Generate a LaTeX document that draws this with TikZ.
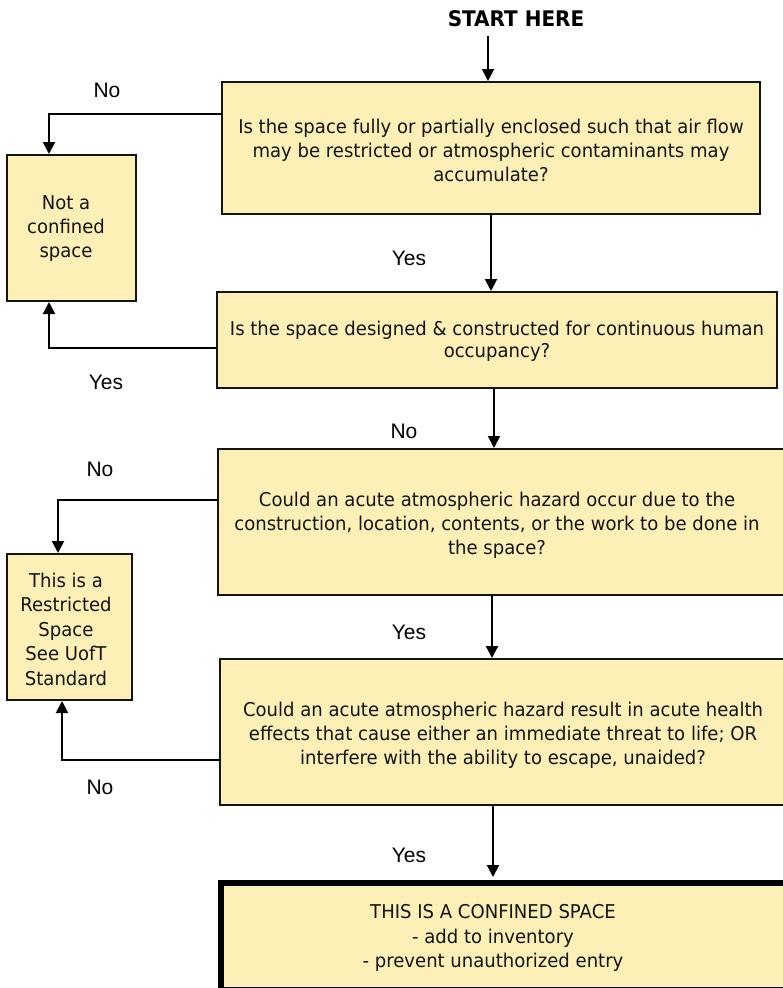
\documentclass[tikz,border=0pt]{standalone}
\usepackage{fontspec}
\setmainfont{DejaVu Sans}[FakeStretch=0.95]
\newfontfamily\startfont{DejaVu Sans}[FakeStretch=0.93]
\newfontfamily\labfont{Liberation Sans}
\usetikzlibrary{arrows.meta}
\definecolor{boxfill}{RGB}{253,240,183}
\definecolor{ink}{RGB}{20,20,20}
\tikzset{
  box/.style={draw=ink, line width=2pt, fill=boxfill, rectangle, inner sep=0pt},
  finalbox/.style={draw=black, line width=6pt, fill=boxfill, rectangle, inner sep=0pt},
  txt/.style={align=center, inner sep=0pt, text=ink, font=\fontsize{19}{24}\selectfont},
  lab/.style={inner sep=0pt, text=black, font=\labfont\fontsize{21}{24}\selectfont},
  arr/.style={draw=black, line width=2pt, -{Triangle[width=12pt,length=12pt]}},
}
\begin{document}
\begin{tikzpicture}[x=1pt, y=-1pt]
\useasboundingbox (0,0) rectangle (783,988);
\clip (0,0) rectangle (783,988);

% start
\node[inner sep=0pt, font=\startfont\bfseries\fontsize{21.5}{24}\selectfont] (start) at (516,19) {START HERE};
\coordinate (s0) at (488,36);

% boxes
\node[box, minimum width=538pt, minimum height=132pt] (b1) at (491,148) {};
\node[txt] (t1) at (491,150) {Is the space fully or partially enclosed such that air flow\\may be restricted or atmospheric contaminants may\\accumulate?};

\node[box, minimum width=129pt, minimum height=146pt] (nc) at (71.5,228) {};
\node[txt] (tnc) at (66,229) {Not a\\confined\\space};

\node[box, minimum width=560pt, minimum height=96pt] (b2) at (497,340) {};
\node[txt, font=\fontsize{19}{22}\selectfont] (t2) at (497,341) {Is the space designed \& constructed for continuous human\\occupancy?};

\node[box, minimum width=572pt, minimum height=146pt] (b3) at (504,522) {};
\node[txt] (t3) at (497,525) {Could an acute atmospheric hazard occur due to the\\construction, location, contents, or the work to be done in\\the space?};

\node[box, minimum width=125pt, minimum height=146pt] (rs) at (69.5,627) {};
\node[txt, font=\fontsize{19}{24.5}\selectfont] (trs) at (66,629) {This is a\\Restricted\\Space\\See UofT\\Standard};

\node[box, minimum width=570pt, minimum height=146pt] (b4) at (505,732) {};
\node[txt] (t4) at (503,735) {Could an acute atmospheric hazard result in acute health\\effects that cause either an immediate threat to life; OR\\interfere with the ability to escape, unaided?};

\node[finalbox, minimum width=569pt, minimum height=107pt] (b5) at (505.5,936.5) {};
\node[txt, font=\fontsize{19}{24.5}\selectfont] (t5) at (493,938) {THIS IS A CONFINED SPACE\\- add to inventory\\- prevent unauthorized entry};

% connectors
\draw[arr] (s0) -- (s0 |- b1.north);
\draw[arr] ([yshift=34pt]b1.west) -| ([xshift=-22.5pt]nc.north);
\draw[arr] (b1.south) -- (b1.south |- b2.north);
\draw[arr] ([yshift=-8pt]b2.west) -| ([xshift=-22.5pt]nc.south);
\draw[arr] ([xshift=-3pt]b2.south) -- ([xshift=-3pt]b2.south |- b3.north);
\draw[arr] ([yshift=22pt]b3.west) -| ([xshift=-11.5pt]rs.north);
\draw[arr] ([xshift=-12pt]b3.south) -- ([xshift=-12pt]b3.south |- b4.north);
\draw[arr] ([yshift=-28pt]b4.west) -| ([xshift=-7.5pt]rs.south);
\draw[arr] ([xshift=-12pt]b4.south) -- ([xshift=-12pt,yshift=3pt]b4.south |- b5.north);

% labels
\node[lab] (l1) at (107,90) {No};
\node[lab] (l2) at (409,258) {Yes};
\node[lab] (l3) at (106,382) {Yes};
\node[lab] (l4) at (404,431) {No};
\node[lab] (l5) at (100,469) {No};
\node[lab] (l6) at (409,632) {Yes};
\node[lab] (l7) at (100,787) {No};
\node[lab] (l8) at (409,855) {Yes};
\end{tikzpicture}
\end{document}
